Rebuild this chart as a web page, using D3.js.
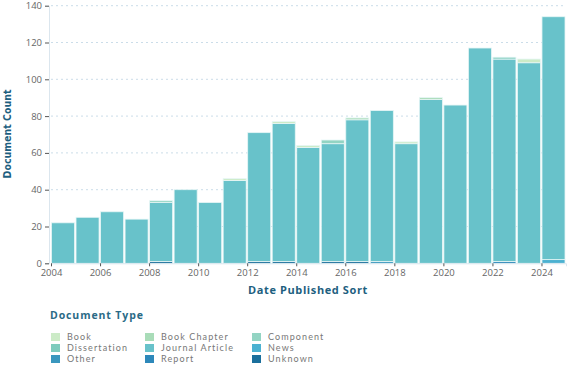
<!DOCTYPE html>
<html><head><meta charset="utf-8">
<script src="https://cdn.jsdelivr.net/npm/d3@7"></script>
<style>body{margin:0;background:#fff}svg{display:block}</style>
</head><body><svg id="c" width="567" height="365"></svg>
<script>
const years = [2004,2005,2006,2007,2008,2009,2010,2011,2012,2013,2014,2015,2016,2017,2018,2019,2020,2021,2022,2023,2024];
const docTypes = ["Book","Book Chapter","Component","Dissertation","Journal Article","News","Other","Report","Unknown"];
const typeColors = ["#ccebc7","#a9dcb8","#93d4c3","#7ecbbd","#68c2ca","#4bb1d1","#3a97be","#2d88ba","#1b6f9c"];
const book          = [0,0,0,0,0,0,0,1,0,1,1,0,0,0,1,0,0,0,0,2,0];
const bookChapter   = [0,0,0,0,0,0,0,0,0,0,0,0,1,0,0,1,0,0,0,0,0];
const component     = [0,0,0,0,1,0,0,0,0,0,0,2,0,0,0,0,0,0,0,0,0];
const dissertation  = [0,0,0,0,0,0,0,0,0,0,0,0,0,0,0,0,0,0,1,0,0];
const journalArticle= [22,25,28,24,32,40,33,45,70,75,63,64,77,82,65,89,86,117,110,109,132];
const news          = [0,0,0,0,0,0,0,0,0,0,0,0,0,0,0,0,0,0,0,0,2];
const other         = [0,0,0,0,0,0,0,0,0,0,0,0,0,1,0,0,0,0,0,0,0];
const report        = [0,0,0,0,0,0,0,0,0,0,0,0,0,0,0,0,0,0,1,0,0];
const unknown       = [0,0,0,0,1,0,0,0,1,1,0,1,1,0,0,0,0,0,0,0,0];
const yTicks = [0,20,40,60,80,100,120,140];
const xTicks = [2004,2006,2008,2010,2012,2014,2016,2018,2020,2022,2024];

const seriesByType = [book,bookChapter,component,dissertation,journalArticle,news,other,report,unknown];
const rows = years.map((y,i)=>{const r={year:y}; docTypes.forEach((t,k)=>r[t]=seriesByType[k][i]); return r;});
const stackOrder = docTypes.slice().reverse(); // Unknown at bottom
const stacked = d3.stack().keys(stackOrder)(rows);
const color = d3.scaleOrdinal().domain(docTypes).range(typeColors);

const svg = d3.select("#c");
const x = d3.scaleLinear().domain([2004,2025]).range([51,566]);
const y = d3.scaleLinear().domain([0,140]).range([263.3,5.7]);

// gridlines
svg.append("g").selectAll("line").data(yTicks.filter(d=>d>0)).join("line")
  .attr("x1",51).attr("x2",566).attr("y1",d=>y(d)).attr("y2",d=>y(d))
  .attr("stroke","#cbdde9").attr("stroke-width",1).attr("stroke-dasharray","2,3");

// bars
svg.append("g").selectAll("g").data(stacked).join("g")
  .attr("fill",d=>color(d.key))
  .selectAll("rect").data(d=>d.filter(p=>p[1]-p[0]>0)).join("rect")
  .attr("x",d=>x(d.data.year)+0.5)
  .attr("width",d=>x(d.data.year+1)-x(d.data.year)-1.5)
  .attr("y",d=>y(d[1]))
  .attr("height",d=>y(d[0])-y(d[1]))
  .attr("stroke","#e6f6f6").attr("stroke-width",0.8);

// y axis
const yAxis = svg.append("g").attr("transform","translate(49,0)")
  .call(d3.axisLeft(y).tickValues(yTicks).tickSize(4).tickPadding(3));
yAxis.select(".domain").attr("stroke","#dbe6ee");
yAxis.selectAll(".tick line").attr("stroke","#555");
yAxis.selectAll("text").attr("fill","#666").attr("font-size","9.5px").attr("font-family","'Open Sans',sans-serif");

// x axis
const xAxis = svg.append("g").attr("transform","translate(0,263.3)")
  .call(d3.axisBottom(x).tickValues(xTicks).tickFormat(d3.format("d")).tickSize(3).tickPadding(3));
xAxis.select(".domain").attr("stroke","#dbe6ee");
xAxis.selectAll(".tick line").attr("stroke","#555");
xAxis.selectAll("text").attr("fill","#666").attr("font-size","9.5px").attr("font-family","'Open Sans',sans-serif");

// axis titles
svg.append("text").attr("x",308).attr("y",294).attr("text-anchor","middle")
  .attr("fill","#1e5f7f").attr("font-size","11px").attr("font-weight","bold")
  .attr("font-family","'Open Sans',sans-serif").attr("letter-spacing","0.6px")
  .text("Date Published Sort");
svg.append("text").attr("transform","translate(11,134) rotate(-90)").attr("text-anchor","middle")
  .attr("fill","#1e5f7f").attr("font-size","10.5px").attr("font-weight","bold")
  .attr("font-family","'DejaVu Sans Condensed','DejaVu Sans',sans-serif")
  .text("Document Count");

// legend
svg.append("text").attr("x",50).attr("y",319)
  .attr("fill","#2a6a86").attr("font-size","10.5px").attr("font-weight","bold")
  .attr("font-family","'Open Sans',sans-serif").attr("letter-spacing","0.9px")
  .text("Document Type");
const colX = [51,145,252];
const lg = svg.append("g").selectAll("g").data(docTypes).join("g")
  .attr("transform",(d,i)=>`translate(${colX[i%3]},${337+Math.floor(i/3)*11})`);
lg.append("rect").attr("x",0).attr("y",-4).attr("width",9).attr("height",8).attr("fill",d=>color(d));
lg.append("text").attr("x",16).attr("y",3.3).attr("fill","#777")
  .attr("font-size","9px").attr("font-family","Lato,sans-serif").attr("letter-spacing","1.1px")
  .text(d=>d);
</script></body></html>
